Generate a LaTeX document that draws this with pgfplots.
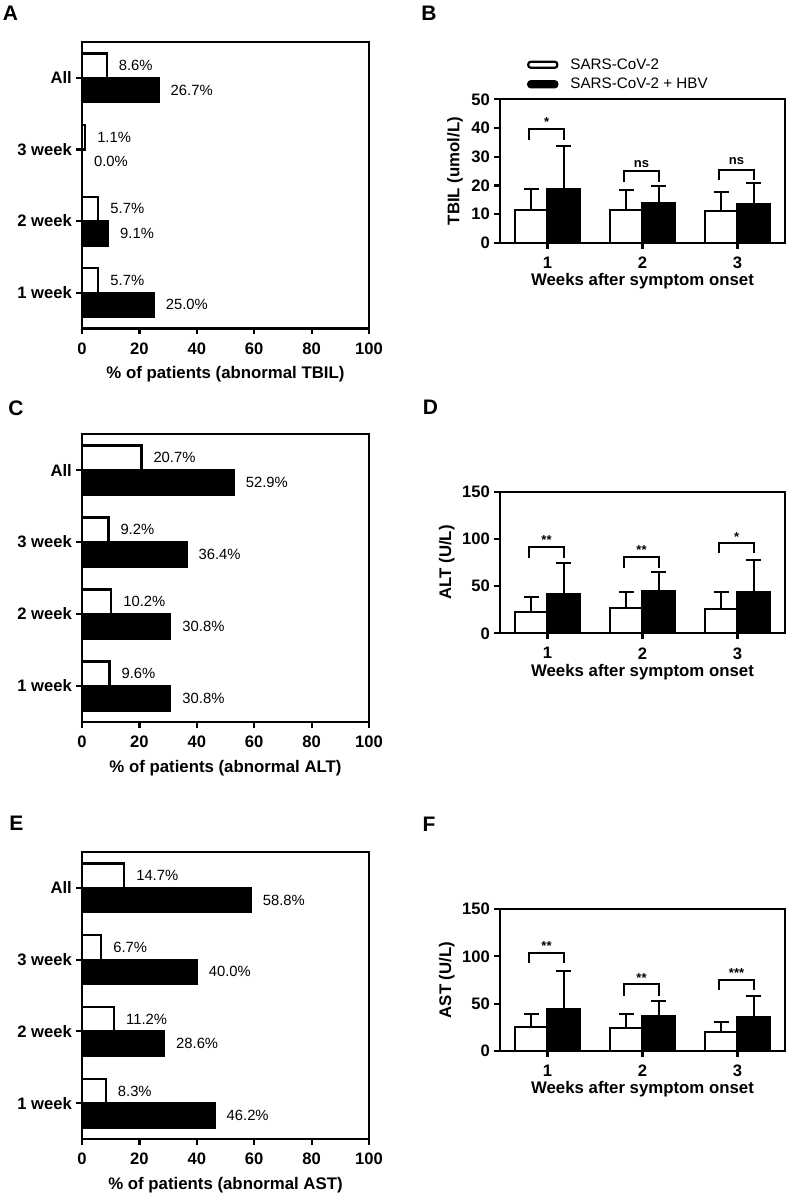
\documentclass[border=0pt]{standalone}
\usepackage{fontspec}
\setmainfont{Liberation Sans}
\usepackage{pgfplots}
\usepackage{pgfplotstable}
\pgfplotsset{compat=1.18}

\newcommand{\tickf}{\fontsize{16.6}{18}\selectfont\bfseries}
\newcommand{\labf}{\fontsize{16.8}{19}\selectfont\bfseries}
\newcommand{\valf}{\fontsize{14.8}{16}\selectfont}
\newcommand{\legf}{\fontsize{15.2}{17}\selectfont}
\newcommand{\starf}{\fontsize{13}{14}\selectfont\bfseries}
\newcommand{\letf}{\fontsize{21}{24}\selectfont\bfseries}

% horizontal bar data: pos 0=1 week,1=2 week,2=3 week,3=All
\pgfplotstableread{
y w b
0 5.7 25.0
1 5.7 9.1
2 1.1 0.0
3 8.6 26.7
}\dataA
\pgfplotstableread{
y w b
0 9.6 30.8
1 10.2 30.8
2 9.2 36.4
3 20.7 52.9
}\dataC
\pgfplotstableread{
y w b
0 8.3 46.2
1 11.2 28.6
2 6.7 40.0
3 14.7 58.8
}\dataE
% vertical bar data: mean and SD
\pgfplotstableread{
x w we b be
1 11.4 7.5 18.9 14.9
2 11.4 6.9 13.9 5.8
3 11.0 6.7 13.6 7.3
}\dataB
\pgfplotstableread{
x w we b be
1 22.9 15.9 41.6 32.5
2 26.5 17.6 44.8 20.5
3 25.4 18.7 43.4 34.2
}\dataD
\pgfplotstableread{
x w we b be
1 25.7 13.4 44.0 40.8
2 24.6 14.5 37.3 15.5
3 20.4 10.2 36.3 22.1
}\dataF

\pgfplotsset{
  common/.style={
    scale only axis, clip=false,
    axis line style={line width=2.2pt},
    tick style={black, line width=2.2pt},
    tick align=outside, major tick length=6pt,
    xtick pos=bottom, ytick pos=left,
    tick label style={font=\tickf},
    label style={font=\labf},
    /pgf/number format/assume math mode=true,
    xticklabel style={inner sep=0pt, yshift=-8pt},
    yticklabel style={inner sep=0pt, xshift=-4pt},
  },
  hbar/.style={common, width=287pt,
    xmin=0, xmax=100, ymin=-0.5, ymax=3.5,
    xtick={0,20,40,60,80,100}, ytick={0,1,2,3},
    yticklabels={1 week,2 week,3 week,All},
    xlabel style={at={(axis description cs:0.5,-0.160)}, anchor=center, inner sep=0pt},
  },
  vbar/.style={common, width=285pt,
    xmin=0.5, xmax=3.5, ymin=0, xtick={1,2,3},
    xlabel={Weeks after symptom onset},
  },
  hw/.style={xbar, bar width=0.34, bar shift=0, fill=white, draw=black, line width=2.2pt,
    point meta=x,
    nodes near coords={\pgfmathprintnumber[fixed,fixed zerofill,precision=1]{\pgfplotspointmeta}\%},
    every node near coord/.append style={anchor=west, inner sep=0pt, xshift=11pt, font=\valf, text=black}},
  hb/.style={hw, fill=black},
  vw/.style={ybar, bar width=0.34, bar shift=0, fill=white, draw=black, line width=2.2pt,
    error bars/y dir=plus, error bars/y explicit,
    error bars/error bar style={line width=2.2pt, black},
    error bars/error mark options={rotate=90, line width=2.2pt, mark size=7.5pt, black}},
  vb/.style={vw, fill=black},
  brk/.style={black, line width=2pt, forget plot},
}

\begin{document}
\begin{tikzpicture}
\path[use as bounding box] (0pt,0pt) rectangle (790pt,1195pt);

% Panel letters
\node[font=\letf] at (10.5pt,1181.5pt) {A};
\node[font=\letf] at (429pt,1181.5pt) {B};
\node[font=\letf] at (16pt,787pt) {C};
\node[font=\letf] at (430.5pt,788pt) {D};
\node[font=\letf] at (16.3pt,371.5pt) {E};
\node[font=\letf] at (429pt,371pt) {F};

% ---------- A ----------
\begin{axis}[hbar, at={(82pt,866.5pt)}, anchor=south west, height=286.5pt,
  xlabel={\% of patients (abnormal TBIL)}]
\addplot[hw] table[x=w,y expr=\thisrow{y}+0.17] {\dataA};
\addplot[hb] table[x=b,y expr=\thisrow{y}-0.17] {\dataA};
\end{axis}

% ---------- C ----------
\begin{axis}[hbar, at={(82pt,473pt)}, anchor=south west, height=288pt,
  xlabel={\% of patients (abnormal ALT)}]
\addplot[hw] table[x=w,y expr=\thisrow{y}+0.17] {\dataC};
\addplot[hb] table[x=b,y expr=\thisrow{y}-0.17] {\dataC};
\end{axis}

% ---------- E ----------
\begin{axis}[hbar, at={(82pt,56pt)}, anchor=south west, height=287pt,
  xlabel={\% of patients (abnormal AST)}]
\addplot[hw] table[x=w,y expr=\thisrow{y}+0.17] {\dataE};
\addplot[hb] table[x=b,y expr=\thisrow{y}-0.17] {\dataE};
\end{axis}

% ---------- B ----------
\begin{axis}[vbar, at={(500pt,952pt)}, anchor=south west, height=143.7pt,
  ymax=50, ytick={0,10,20,30,40,50},
  ylabel={TBIL (umol/L)},
  ylabel style={at={(axis description cs:-0.158,0.5)}, anchor=center, inner sep=0pt},
  xlabel style={at={(axis description cs:0.5,-0.264)}, anchor=center, inner sep=0pt},
  legend style={draw=none, fill=none, inner sep=0pt, font=\legf,
    at={(axis description cs:0.0947,1.284)}, anchor=north west,
    row sep=7.4pt, column sep=12pt, nodes={inner sep=0pt}},
  legend cell align=left]
\addlegendimage{legend image code/.code={\filldraw[fill=white, draw=black, line width=2.2pt, rounded corners=2.5pt] (0pt,-3pt) rectangle (29pt,3pt);}}
\addlegendentry{SARS-CoV-2}
\addlegendimage{legend image code/.code={\filldraw[fill=black, draw=black, line width=2.2pt, rounded corners=2.5pt] (0pt,-3pt) rectangle (29pt,3pt);}}
\addlegendentry{SARS-CoV-2 + HBV}
\addplot[vw, forget plot] table[x expr=\thisrow{x}-0.17,y=w,y error=we] {\dataB};
\addplot[vb, forget plot] table[x expr=\thisrow{x}+0.17,y=b,y error=be] {\dataB};
\addplot[brk] coordinates {(0.8,35.7) (0.8,39.5) (1.175,39.5) (1.175,35.7)};
\addplot[brk] coordinates {(1.8,21.2) (1.8,25.0) (2.175,25.0) (2.175,21.2)};
\addplot[brk] coordinates {(2.8,21.8) (2.8,25.5) (3.175,25.5) (3.175,21.8)};
\node[font=\starf] at (axis cs:0.99,42.0) {*};
\node[font=\starf] at (axis cs:1.99,27.6) {ns};
\node[font=\starf] at (axis cs:2.99,28.4) {ns};
\end{axis}

% ---------- D ----------
\begin{axis}[vbar, at={(500pt,561.7pt)}, anchor=south west, height=141.6pt,
  ymax=150, ytick={0,50,100,150},
  ylabel={ALT (U/L)},
  ylabel style={at={(axis description cs:-0.187,0.5)}, anchor=center, inner sep=0pt},
  xlabel style={at={(axis description cs:0.5,-0.271)}, anchor=center, inner sep=0pt}]
\addplot[vw, forget plot] table[x expr=\thisrow{x}-0.17,y=w,y error=we] {\dataD};
\addplot[vb, forget plot] table[x expr=\thisrow{x}+0.17,y=b,y error=be] {\dataD};
\addplot[brk] coordinates {(0.8,79.4) (0.8,91.7) (1.175,91.7) (1.175,79.4)};
\addplot[brk] coordinates {(1.8,69.5) (1.8,81.1) (2.175,81.1) (2.175,69.5)};
\addplot[brk] coordinates {(2.8,84.7) (2.8,96.0) (3.175,96.0) (3.175,84.7)};
\node[font=\starf] at (axis cs:0.99,98.8) {**};
\node[font=\starf] at (axis cs:1.99,88.0) {**};
\node[font=\starf] at (axis cs:2.99,102.0) {*};
\end{axis}

% ---------- F ----------
\begin{axis}[vbar, at={(500pt,144pt)}, anchor=south west, height=142pt,
  ymax=150, ytick={0,50,100,150},
  ylabel={AST (U/L)},
  ylabel style={at={(axis description cs:-0.187,0.5)}, anchor=center, inner sep=0pt},
  xlabel style={at={(axis description cs:0.5,-0.270)}, anchor=center, inner sep=0pt}]
\addplot[vw, forget plot] table[x expr=\thisrow{x}-0.17,y=w,y error=we] {\dataF};
\addplot[vb, forget plot] table[x expr=\thisrow{x}+0.17,y=b,y error=be] {\dataF};
\addplot[brk] coordinates {(0.8,92.6) (0.8,103.8) (1.175,103.8) (1.175,92.6)};
\addplot[brk] coordinates {(1.8,58.4) (1.8,70.4) (2.175,70.4) (2.175,58.4)};
\addplot[brk] coordinates {(2.8,64.4) (2.8,75.0) (3.175,75.0) (3.175,64.4)};
\node[font=\starf] at (axis cs:0.99,111.0) {**};
\node[font=\starf] at (axis cs:1.99,77.4) {**};
\node[font=\starf] at (axis cs:2.99,82.7) {***};
\end{axis}
\end{tikzpicture}
\end{document}
